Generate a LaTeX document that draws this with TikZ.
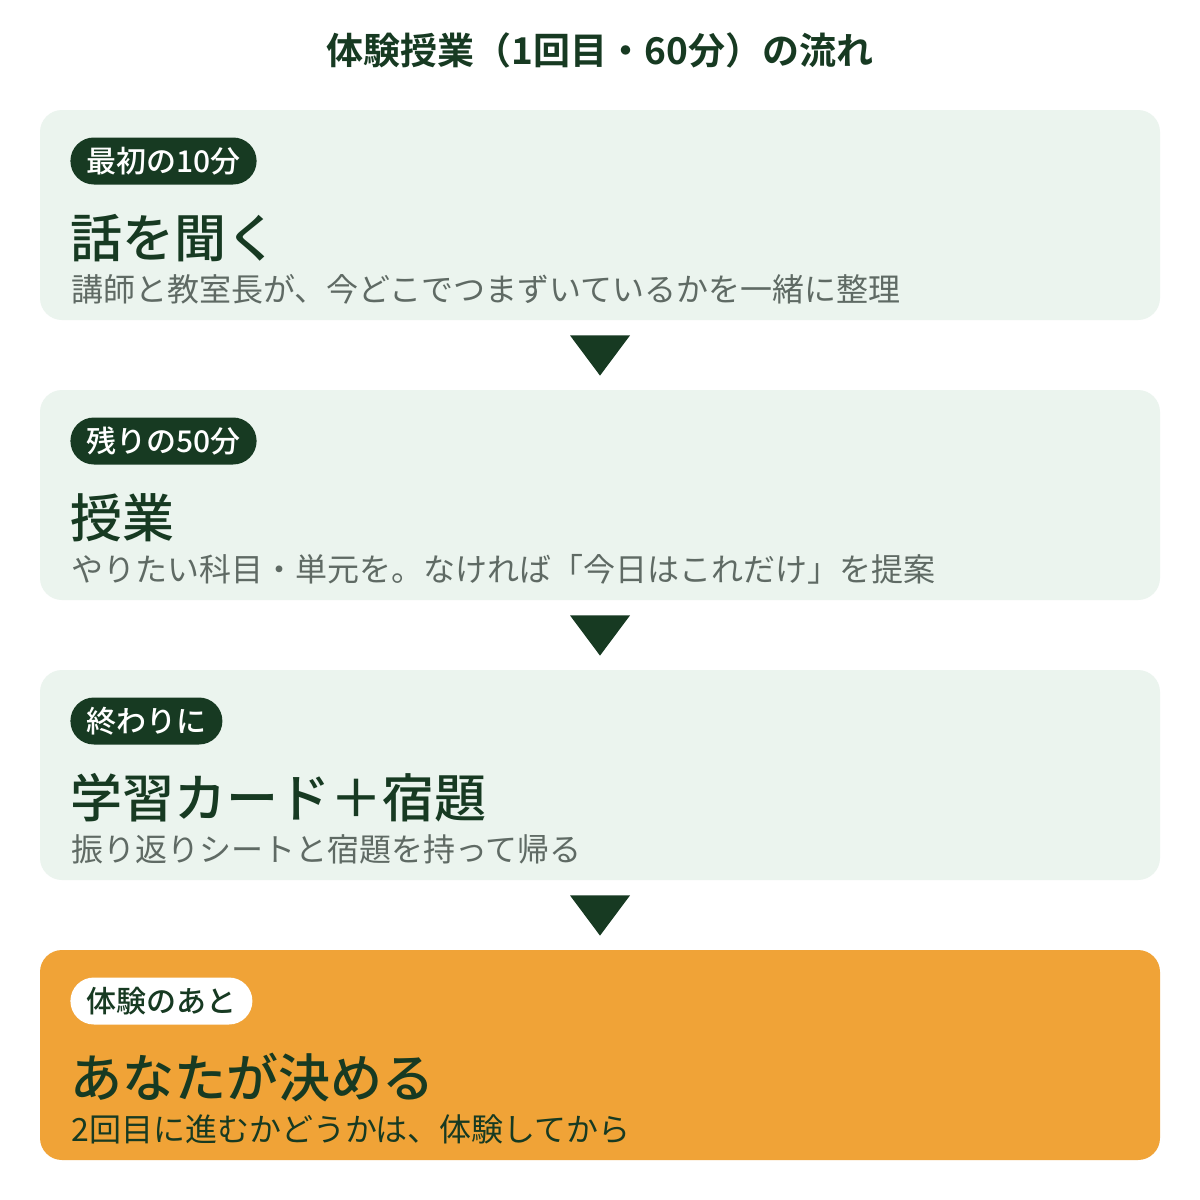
\documentclass[tikz,border=0pt]{standalone}
\usepackage{fontspec}
\newfontfamily\jp{Noto Sans CJK JP}
\newfontfamily\jpb{Noto Sans CJK JP Bold}
\newfontfamily\jpm{Noto Sans CJK JP Medium}
\definecolor{dkgreen}{HTML}{173A22}
\definecolor{ltgreen}{HTML}{EBF4EE}
\definecolor{orng}{HTML}{F0A337}
\definecolor{subgray}{HTML}{5F6A64}
\begin{document}
\begin{tikzpicture}[x=0.5pt,y=-0.5pt,
  card/.style={fill=ltgreen, draw=none, rounded corners=11pt, minimum width=560pt, minimum height=105pt, inner sep=0pt},
  cardhi/.style={card, fill=orng},
  pill/.style={fill=dkgreen, text=white, rounded corners=11.75pt, minimum height=23.5pt, inner xsep=8pt, inner ysep=0pt, anchor=west, font=\jpm\fontsize{15pt}{17pt}\selectfont},
  pillw/.style={pill, fill=white, text=dkgreen},
  head/.style={anchor=west, inner sep=0pt, text=dkgreen, font=\jpm\fontsize{26pt}{29pt}\selectfont},
  sub/.style={anchor=west, inner sep=0pt, text=subgray, font=\jp\fontsize{16pt}{18pt}\selectfont},
  tri/.style={fill=dkgreen, draw=none}
]
\useasboundingbox[fill=white] (0,0) rectangle (1200,1200);
\node[text=dkgreen, font=\jpb\fontsize{18.5pt}{22pt}\selectfont, inner sep=0pt] (title) at (600,50) {体験授業（1回目・60分）の流れ};

\node[card] (b1) at (600,215) {};
\node[card] (b2) at (600,495) {};
\node[card] (b3) at (600,775) {};
\node[cardhi] (b4) at (600,1055) {};

\node[pill] (p1) at (70,161) {最初の10分};
\node[head] (h1) at (70,238) {話を聞く};
\node[sub] (s1) at (71,289) {講師と教室長が、今どこでつまずいているかを一緒に整理};

\node[pill] (p2) at (70,441) {残りの50分};
\node[head] (h2) at (70,518) {授業};
\node[sub] (s2) at (71,569) {やりたい科目・単元を。なければ「今日はこれだけ」を提案};

\node[pill] (p3) at (70,721) {終わりに};
\node[head] (h3) at (70,798) {学習カード＋宿題};
\node[sub] (s3) at (71,849) {振り返りシートと宿題を持って帰る};

\node[pillw] (p4) at (70,1001) {体験のあと};
\node[head] (h4) at (70,1078) {あなたが決める};
\node[sub, text=dkgreen] (s4) at (71,1129) {2回目に進むかどうかは、体験してから};

\foreach \a/\b in {b1/b2, b2/b3, b3/b4}{
  \fill[tri] ([xshift=-15pt,yshift=-7.5pt]\a.south) -- ([xshift=15pt,yshift=-7.5pt]\a.south) -- ([yshift=7pt]\b.north) -- cycle;
}
\end{tikzpicture}
\end{document}
